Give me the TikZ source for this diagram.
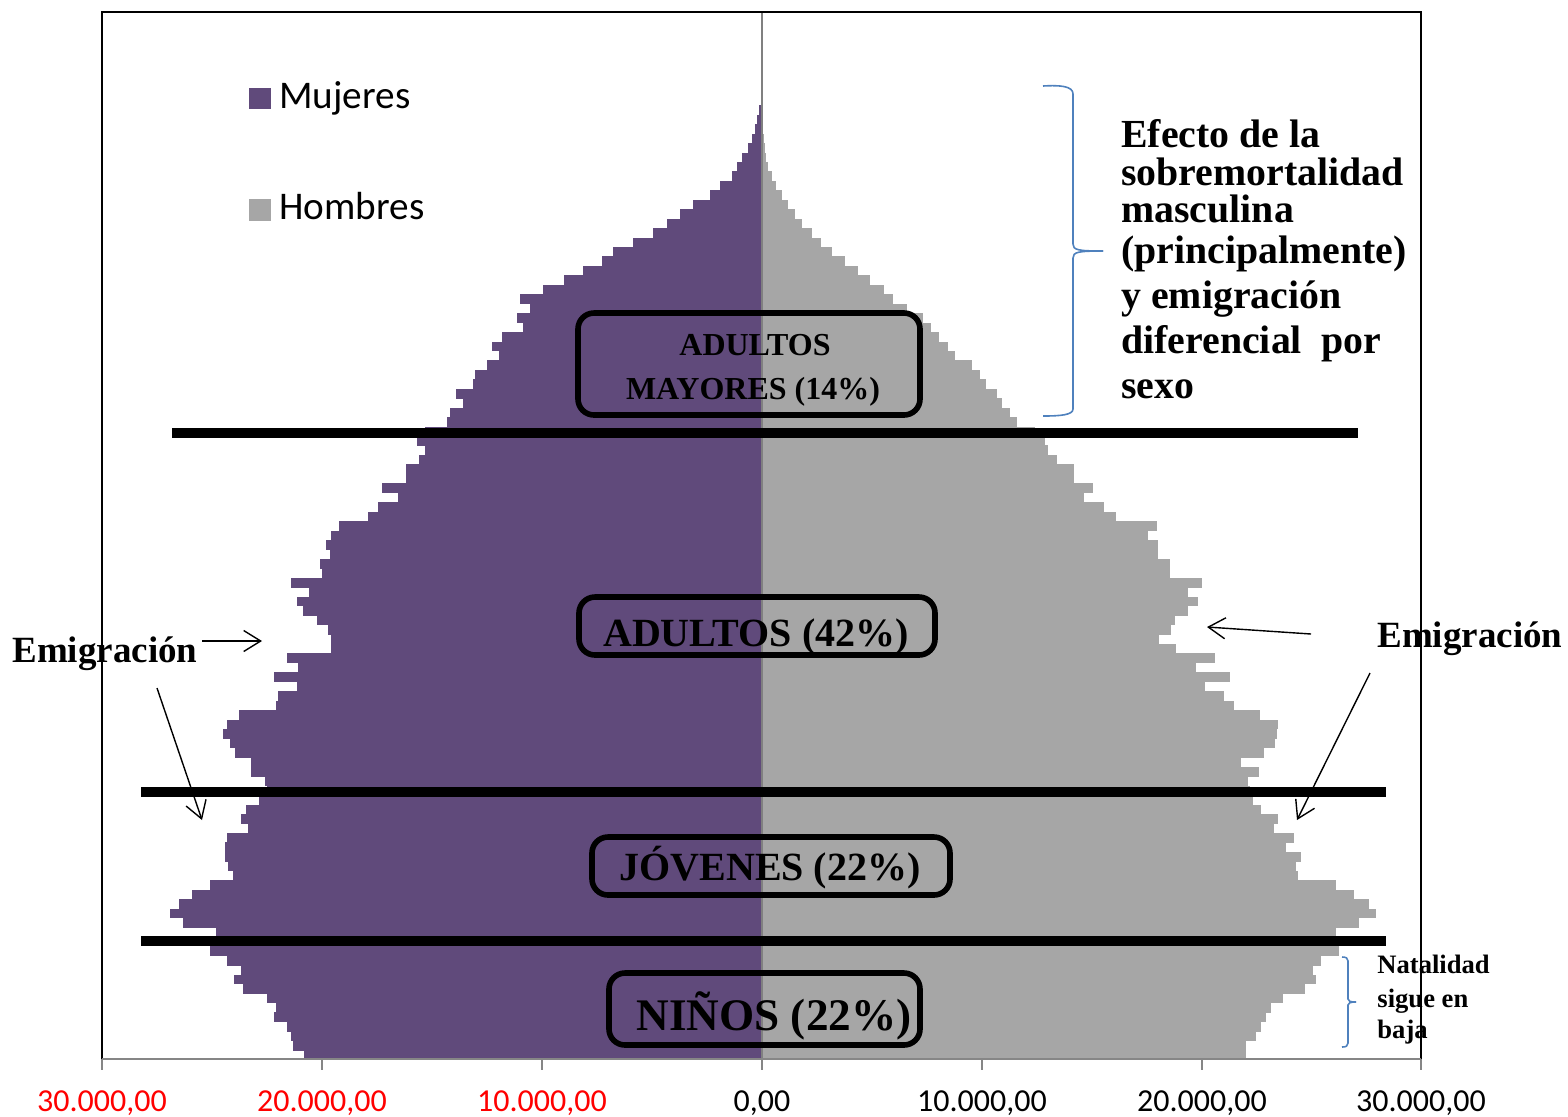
\documentclass[tikz,border=0pt]{standalone}
\usepackage{fontspec}
\setmainfont{Liberation Serif}
\newfontfamily\calibri{Carlito}
\usetikzlibrary{arrows.meta}
\definecolor{mujercol}{HTML}{604A7B}
\definecolor{hombrecol}{HTML}{A6A6A6}
\definecolor{llavecol}{HTML}{4F81BD}
\definecolor{ejecol}{HTML}{868686}
\begin{document}
\begin{tikzpicture}[x=0.5pt,y=-0.5pt,
    mujer/.style={fill=mujercol},
    hombre/.style={fill=hombrecol},
    corte/.style={line width=4.6pt},
    grupo/.style={line width=2.8pt,rounded corners=8pt},
    flecha/.style={line width=0.7pt,-{Straight Barb[length=8.5pt,width=10.5pt]}},
    llave/.style={draw=llavecol,line width=0.8pt},
    etiqueta/.style={font=\bfseries\fontsize{20pt}{24pt}\selectfont,inner sep=0pt,anchor=base},
    nota/.style={font=\bfseries\fontsize{19.9pt}{24pt}\selectfont,inner sep=0pt,anchor=base west},
    leyenda/.style={font=\calibri\fontsize{19.6pt}{24pt}\selectfont,inner sep=0pt,anchor=base west},
    eje/.style={font=\calibri\fontsize{16pt}{20pt}\selectfont,inner sep=0pt,anchor=base}]
    \useasboundingbox (0,0) rectangle (1568,1116);
    \begin{scope}[shift={(762,1060)},x=11pt,y=4.725pt]
        \foreach \a/\m/\h in {0/20.8/21.98, 1/21.3/22.0, 2/21.4/22.45, 3/21.6/22.7, 4/22.2/22.9,
            5/22.1/23.15, 6/22.5/23.66, 7/23.6/24.66, 8/24.0/25.2, 9/23.7/25.06,
            10/24.3/25.43, 11/25.1/26.24, 12/24.8/26.08, 13/24.8/26.08, 14/26.3/27.15,
            15/26.9/27.9, 16/26.5/27.6, 17/25.9/26.9, 18/25.1/26.08, 19/24.05/24.35,
            20/24.27/24.26, 21/24.4/24.48, 22/24.4/23.8, 23/24.34/24.2, 24/23.36/23.25,
            25/23.67/23.45, 26/23.44/22.7, 27/22.86/22.3, 28/22.5/22.2, 29/22.6/22.1,
            30/23.23/22.6, 31/23.23/21.77, 32/23.95/22.8, 33/24.16/23.3, 34/24.48/23.4,
            35/24.3/23.45, 36/23.76/22.64, 37/22.1/21.45, 38/22.0/21.02, 39/21.15/20.12,
            40/22.2/21.27, 41/21.1/19.74, 42/21.6/20.6, 43/19.59/18.84, 44/19.59/18.03,
            45/19.71/18.57, 46/20.25/18.75, 47/20.85/19.35, 48/21.15/19.8, 49/20.61/19.35,
            50/21.42/19.98, 51/20.02/18.54, 52/20.11/18.54, 53/19.62/18.0, 54/19.84/18.0,
            55/19.57/17.55, 56/19.23/17.94, 57/17.91/16.1, 58/17.46/15.53, 59/16.56/14.63,
            60/17.28/15.03, 61/16.17/14.16, 62/16.17/14.16, 63/15.57/13.4, 64/15.34/12.99,
            65/15.66/12.86, 66/15.3/12.4, 67/14.3/11.6, 68/14.18/11.27, 69/13.6/10.9,
            70/13.9/10.67, 71/13.15/10.2, 72/13.05/9.9, 73/12.49/9.53, 74/11.94/8.77,
            75/12.29/8.45, 76/11.83/8.05, 77/10.85/7.7, 78/11.15/7.3, 79/10.55/6.58,
            80/11.0/5.94, 81/9.95/5.55, 82/9.0/4.9, 83/8.15/4.37, 84/7.29/3.77,
            85/6.79/3.2, 86/5.86/2.7, 87/4.95/2.26, 88/4.33/1.82, 89/3.73/1.5,
            90/3.14/1.2, 91/2.36/0.9, 92/1.91/0.64, 93/1.38/0.44, 94/1.15/0.28,
            95/0.92/0.18, 96/0.65/0.12, 97/0.47/0.08, 98/0.32/0.05, 99/0.21/0.03,
            100/0.12/0.02, 101/0.06/0.01}{
            \fill[mujer] (-\m,\a) rectangle (0,\a+1.03);
            \fill[hombre] (0,\a) rectangle (\h,\a+1.03);
        }
    \end{scope}
    \draw[gray,line width=0.9pt] (762,12) -- (762,1059);
    \draw[line width=0.6pt] (102,1059) -- (102,12) -- (1421,12) -- (1421,1059);
    \draw[ejecol,line width=1pt] (102,1059) -- (1421,1059);
    \foreach \t in {102,322,542,762,982,1202,1421}
        \draw[ejecol,line width=1pt] (\t,1059) -- (\t,1070);
    \node[eje,red] (tm30) at (102,1111) {30.000,00};
    \node[eje,red] (tm20) at (322,1111) {20.000,00};
    \node[eje,red] (tm10) at (542,1111) {10.000,00};
    \node[eje] (t0) at (762,1111) {0,00};
    \node[eje] (th10) at (982,1111) {10.000,00};
    \node[eje] (th20) at (1202,1111) {20.000,00};
    \node[eje] (th30) at (1421,1111) {30.000,00};
    \fill[mujer] (249,88) rectangle (271,109);
    \node[leyenda] (mujeres) at (279,108) {Mujeres};
    \fill[hombre] (249,199) rectangle (271,221);
    \node[leyenda] (hombres) at (279,219) {Hombres};
    \draw[corte] (172,433) -- (1358,433);
    \draw[corte] (141,792) -- (1386,792);
    \draw[corte] (141,941) -- (1386,941);
    \draw[grupo] (578,313) rectangle (920,415);
    \draw[grupo] (579,597) rectangle (935,655);
    \draw[grupo] (592,837) rectangle (950,895);
    \draw[grupo] (609,973) rectangle (920,1045);
    \node[etiqueta,font=\bfseries\fontsize{16pt}{20pt}\selectfont] (mayores) at (755,355) {ADULTOS};
    \node[etiqueta,font=\bfseries\fontsize{16pt}{20pt}\selectfont] (mayorespct) at (753,399) {MAYORES (14\%)};
    \node[etiqueta] (adultos) at (756,646) {ADULTOS (42\%)};
    \node[etiqueta] (jovenes) at (770,880) {JÓVENES (22\%)};
    \node[etiqueta,font=\bfseries\fontsize{22.6pt}{26pt}\selectfont] (ninos) at (774,1030) {NIÑOS (22\%)};
    \node[nota] (efecto1) at (1121,147) {Efecto de la};
    \node[nota] (efecto2) at (1121,185) {sobremortalidad};
    \node[nota] (efecto3) at (1121,222) {masculina};
    \node[nota] (efecto4) at (1121,263) {(principalmente)};
    \node[nota] (efecto5) at (1121,308) {y emigración};
    \node[nota] (efecto6) at (1121,353) {diferencial \ por};
    \node[nota] (efecto7) at (1121,398) {sexo};
    \node[nota,font=\bfseries\fontsize{18.5pt}{22pt}\selectfont] (emigiz) at (12,662) {Emigración};
    \node[nota,font=\bfseries\fontsize{18.5pt}{22pt}\selectfont] (emigde) at (1377,647) {Emigración};
    \node[nota,font=\bfseries\fontsize{13.3pt}{16pt}\selectfont] (natal1) at (1377,973) {Natalidad};
    \node[nota,font=\bfseries\fontsize{13.3pt}{16pt}\selectfont] (natal2) at (1377,1007) {sigue en};
    \node[nota,font=\bfseries\fontsize{13.3pt}{16pt}\selectfont] (natal3) at (1377,1038) {baja};
    \coordinate (izh1) at (202,641);
    \coordinate (izh2) at (262,641);
    \coordinate (izd1) at (157,688);
    \coordinate (izd2) at (202,820);
    \coordinate (deh1) at (1311,634);
    \coordinate (deh2) at (1207,627);
    \coordinate (ded1) at (1370,673);
    \coordinate (ded2) at (1297,820);
    \draw[flecha] (izh1) -- (izh2);
    \draw[flecha] (izd1) -- (izd2);
    \draw[flecha] (deh1) -- (deh2);
    \draw[flecha] (ded1) -- (ded2);
    \coordinate (ll1) at (1043,86);
    \coordinate (ll2) at (1103,251);
    \coordinate (ll3) at (1043,416);
    \draw[llave] (ll1) .. controls (1060,85) and (1073,86) .. (1073,94) -- (1073,244)
        .. controls (1073,250) and (1078,251) .. (ll2);
    \draw[llave] (ll2) .. controls (1078,251) and (1073,252) .. (1073,258) -- (1073,409)
        .. controls (1073,415) and (1060,416) .. (ll3);
    \coordinate (ln1) at (1342,957);
    \coordinate (ln2) at (1356,1002);
    \coordinate (ln3) at (1342,1047);
    \draw[llave] (ln1) .. controls (1346,957) and (1348,958) .. (1348,961) -- (1348,999)
        .. controls (1348,1001) and (1350,1002) .. (ln2);
    \draw[llave] (ln2) .. controls (1350,1002) and (1348,1003) .. (1348,1005) -- (1348,1043)
        .. controls (1348,1046) and (1346,1047) .. (ln3);
\end{tikzpicture}
\end{document}
